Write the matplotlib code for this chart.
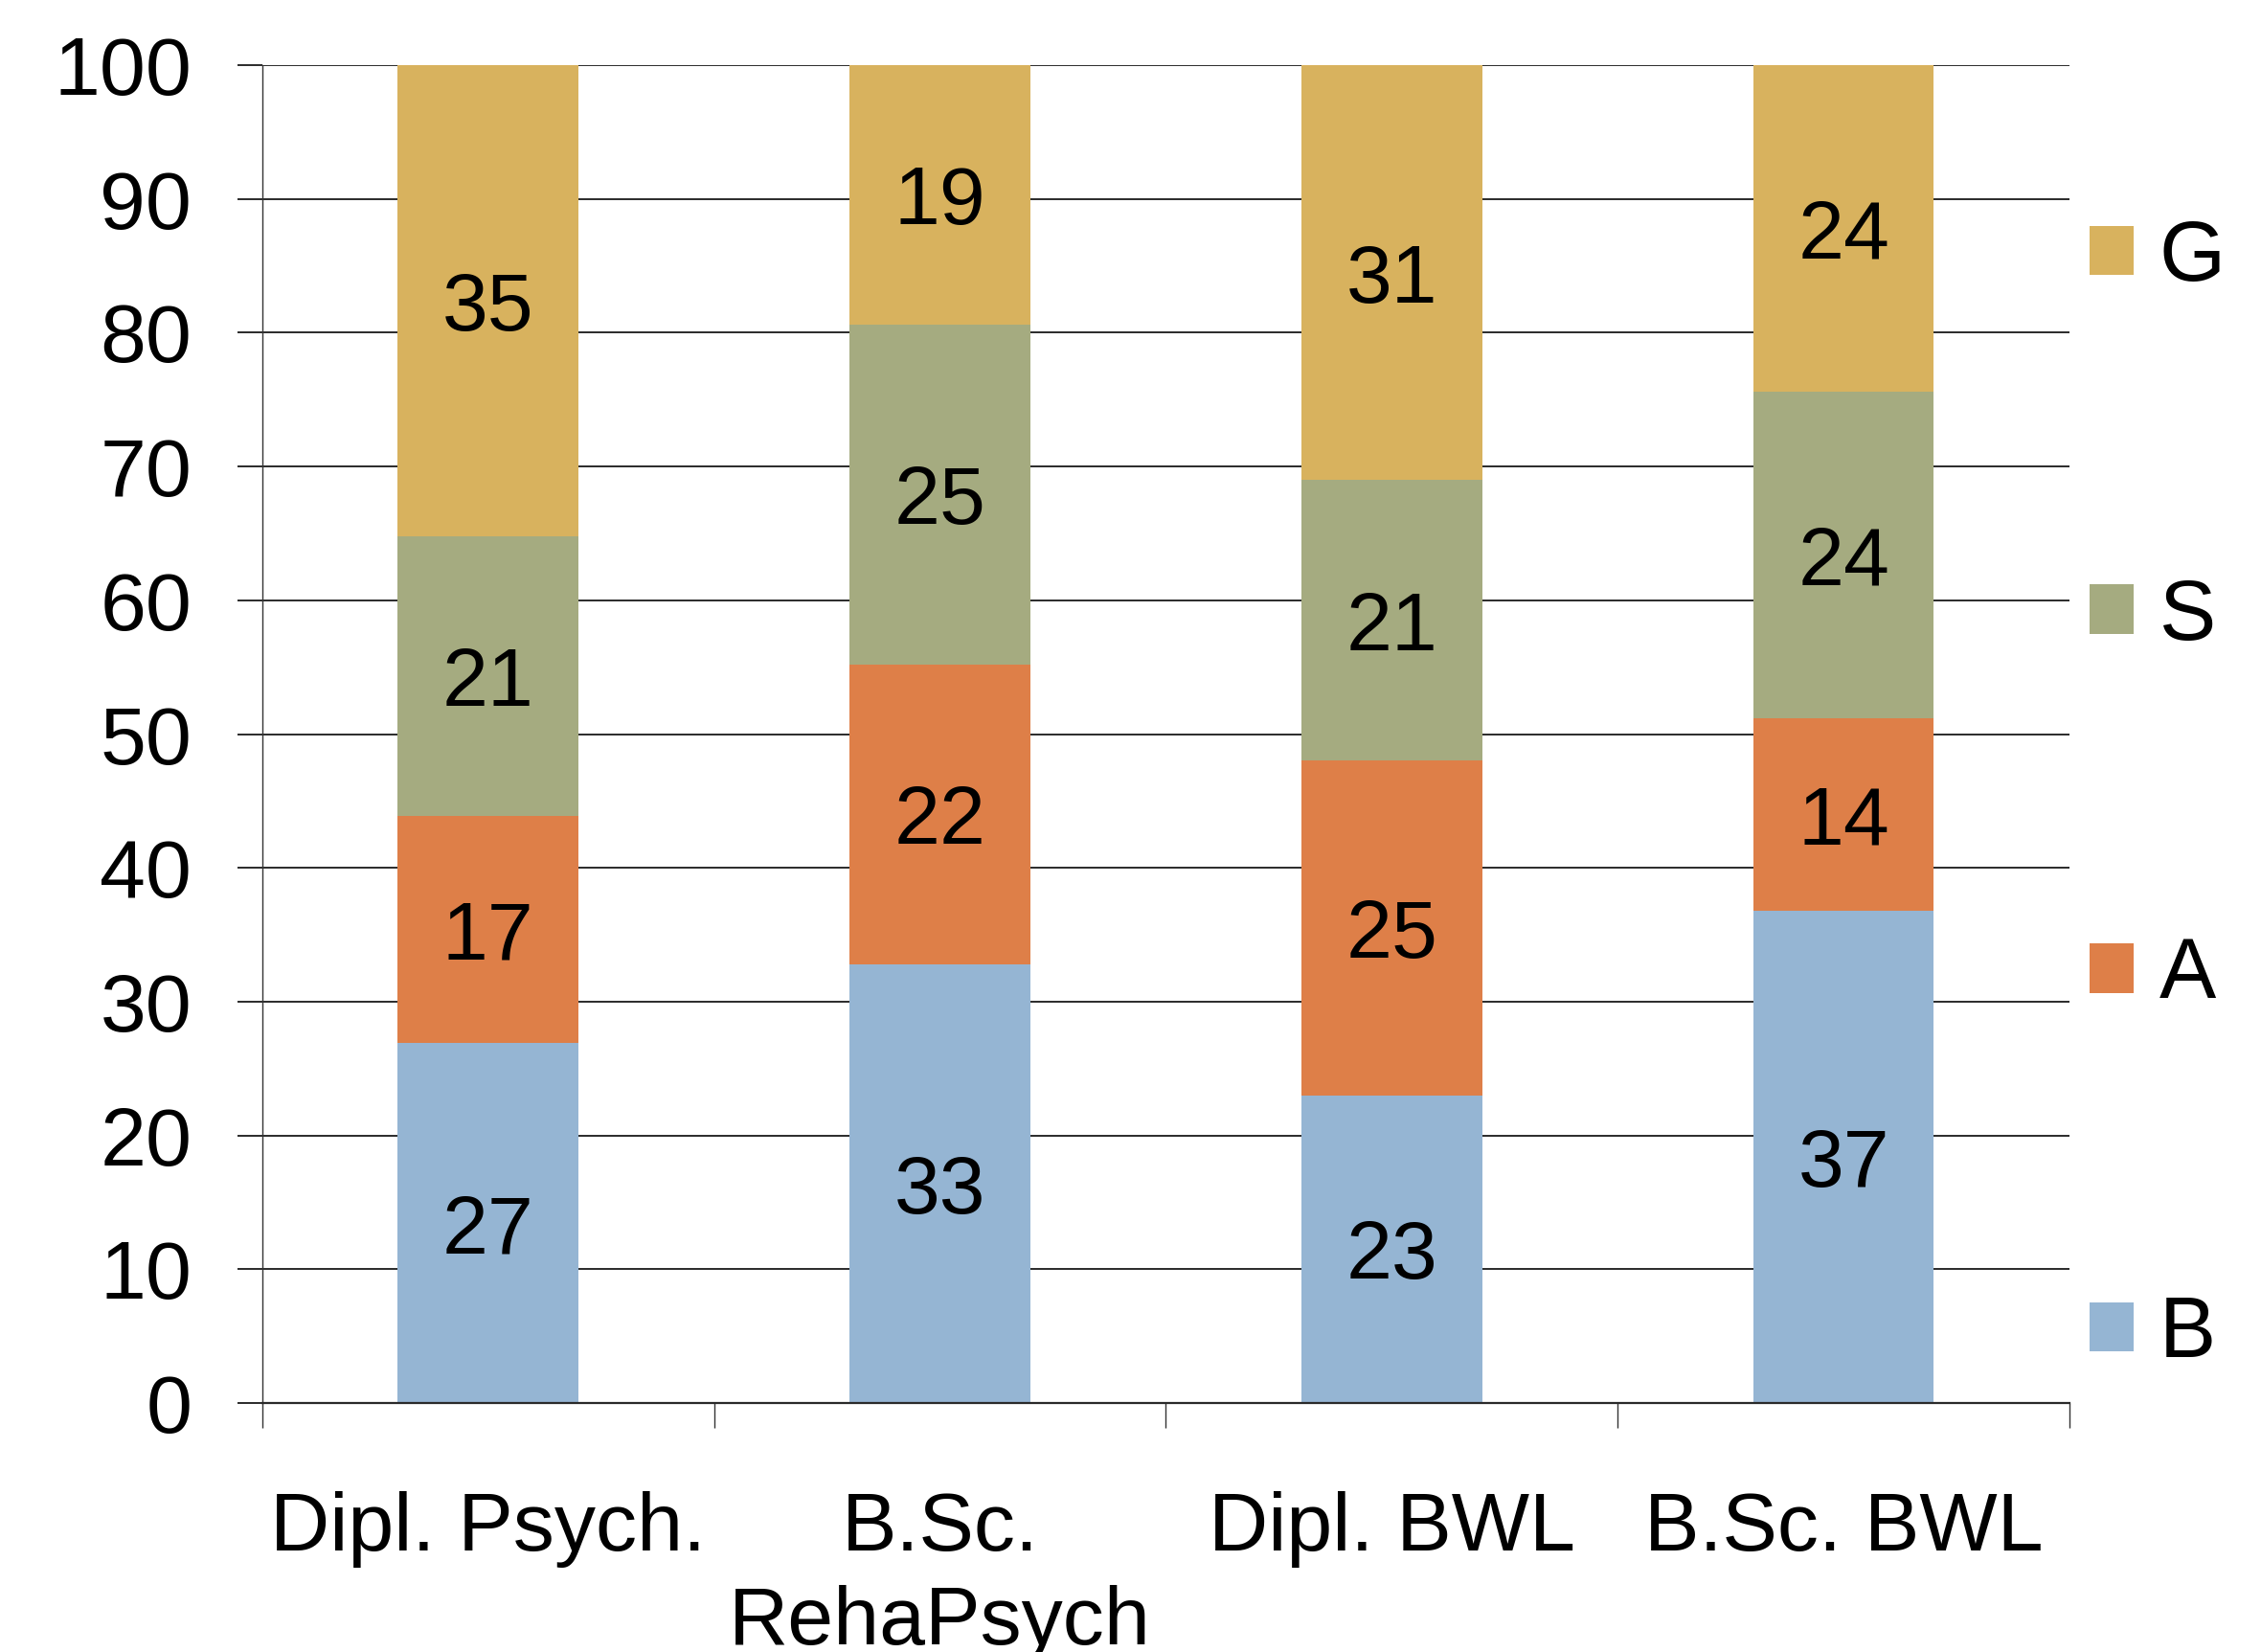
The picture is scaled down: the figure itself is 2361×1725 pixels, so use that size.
import numpy as np
import matplotlib
matplotlib.use("Agg")
import matplotlib.pyplot as plt

plt.rcParams['font.family'] = ['Liberation Sans', 'DejaVu Sans']

# Degree programmes and share (%) of each group per programme
programmes = ["Dipl. Psych.", "B.Sc.\nRehaPsych", "Dipl. BWL", "B.Sc. BWL"]
groups = ["B", "A", "S", "G"]
share_B = [26.9, 32.8, 23.0, 36.8]
share_A = [17.0, 22.4, 25.0, 14.4]
share_S = [20.9, 25.4, 21.0, 24.4]
share_G = [35.2, 19.4, 31.0, 24.4]
colors = ["#95B5D3", "#DE7F48", "#A5AB80", "#D8B25E"]

fig = plt.figure(figsize=(23.61, 17.25), dpi=100)
ax = fig.add_axes([0.116, 0.1507, 0.7993, 0.8099])

x = np.arange(len(programmes))
bottom = np.zeros(len(programmes))
handles = []
for name, vals, col in zip(groups, [share_B, share_A, share_S, share_G], colors):
    vals = np.array(vals)
    bars = ax.bar(x, vals, width=0.4, bottom=bottom, color=col, zorder=2, label=name)
    handles.append(bars)
    # value label in the middle of each segment
    for xi, b, v in zip(x, bottom, vals):
        ax.text(xi, b + v / 2, "%.0f" % v, ha="center", va="center_baseline",
                fontsize=62, zorder=3)
    bottom += vals

ax.set_xlim(-0.5, 3.5)
ax.set_ylim(0, 100)
ax.set_yticks(np.arange(0, 101, 10))
ax.yaxis.grid(True, color="#2a2a2a", linewidth=1.4, zorder=0)
ax.set_axisbelow(True)

ax.set_xticks(x)
ax.set_xticklabels(programmes, fontsize=62, linespacing=1.3)
ax.set_xticks(np.arange(-0.5, 4.0, 1.0), minor=True)
ax.tick_params(axis="x", which="major", length=0, pad=66)
ax.tick_params(axis="x", which="minor", length=19, width=1.0, color="#333333", direction="out")
ax.tick_params(axis="y", length=19, width=1.4, color="#2a2a2a", labelsize=62, pad=34)

for side in ["top", "right"]:
    ax.spines[side].set_visible(False)
ax.spines["left"].set_color("#333333")
ax.spines["left"].set_linewidth(1.0)
ax.spines["bottom"].set_color("#2a2a2a")
ax.spines["bottom"].set_linewidth(1.6)

leg = ax.legend(handles[::-1], groups[::-1], loc="upper left", bbox_to_anchor=(0.978, 0.93),
                frameon=False, fontsize=64, handlelength=0.52, handleheight=0.52,
                handletextpad=0.3, labelspacing=3.27, borderaxespad=0.3)

fig.savefig("out.png", dpi=100)
